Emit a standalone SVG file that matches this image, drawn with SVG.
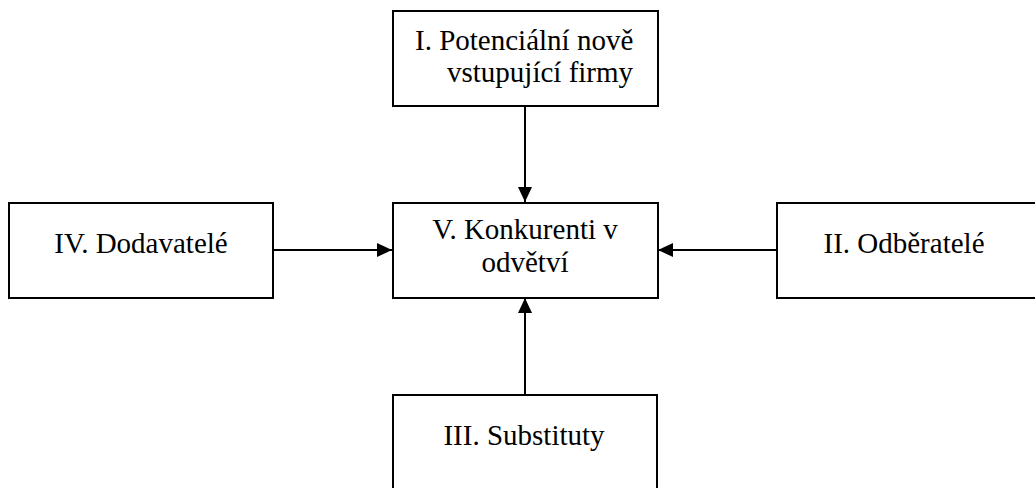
<svg xmlns="http://www.w3.org/2000/svg" width="1035" height="488" viewBox="0 0 1035 488">
  <style>
    .box { fill: #ffffff; stroke: #000000; stroke-width: 2; }
    .lbl { font-family: "Liberation Serif", "Times New Roman", serif; font-size: 29px; fill: #000000; }
    .mid { text-anchor: middle; }
    .link { stroke: #000000; stroke-width: 2; fill: none; marker-end: url(#head); }
  </style>
  <defs>
    <marker id="head" viewBox="0 0 15 14" refX="15" refY="7" markerWidth="15" markerHeight="14" markerUnits="userSpaceOnUse" orient="auto">
      <path d="M0,0 L15,7 L0,14 Z" fill="#000000"/>
    </marker>
  </defs>
  <rect width="1035" height="488" fill="#ffffff"/>

  <!-- connectors: every force points at the central rivalry box -->
  <g id="connectors">
    <line class="link" x1="525" y1="106" x2="525" y2="202"/>
    <line class="link" x1="273" y1="250" x2="392" y2="250"/>
    <line class="link" x1="777" y1="250" x2="658" y2="250"/>
    <line class="link" x1="525" y1="395" x2="525" y2="298"/>
  </g>

  <g id="node-entrants">
    <rect class="box" x="393" y="11" width="265" height="95"/>
    <text class="lbl" x="415" y="50">I. Potenciální nově</text>
    <text class="lbl" x="447" y="82">vstupující firmy</text>
  </g>

  <g id="node-rivals">
    <rect class="box" x="393" y="203" width="265" height="95"/>
    <text class="lbl mid" x="525" y="239">V. Konkurenti v</text>
    <text class="lbl mid" x="525" y="272">odvětví</text>
  </g>

  <g id="node-suppliers">
    <rect class="box" x="9" y="203" width="264" height="95"/>
    <text class="lbl mid" x="141" y="253">IV. Dodavatelé</text>
  </g>

  <g id="node-buyers">
    <rect class="box" x="777" y="203" width="270" height="95"/>
    <text class="lbl mid" x="904" y="253">II. Odběratelé</text>
  </g>

  <g id="node-substitutes">
    <rect class="box" x="393" y="395" width="264" height="110"/>
    <text class="lbl mid" x="524" y="445">III. Substituty</text>
  </g>
</svg>
